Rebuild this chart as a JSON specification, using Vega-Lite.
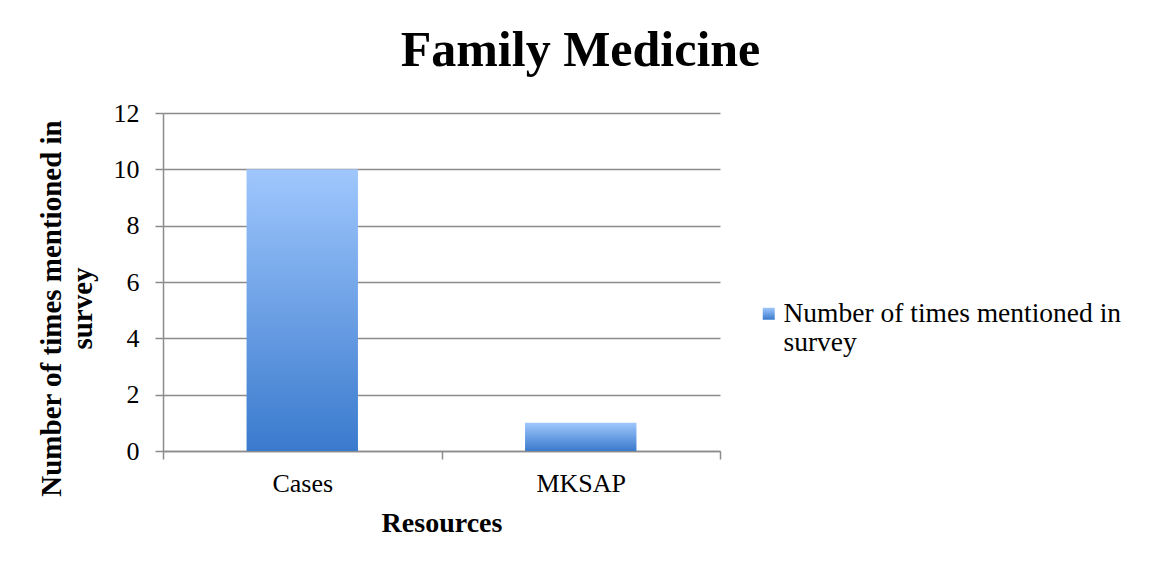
{
  "$schema": "https://vega.github.io/schema/vega-lite/v6.json",
  "width": 557,
  "height": 338,
  "autosize": {"type": "none"},
  "padding": {"left": 163, "top": 113, "right": 433, "bottom": 118},
  "background": "white",
  "title": {
    "text": "Family Medicine",
    "font": "Liberation Serif",
    "fontSize": 50,
    "fontWeight": "bold",
    "color": "black",
    "anchor": "middle",
    "frame": "bounds",
    "offset": 24,
    "dx": 1
  },
  "data": {
    "values": [
      {"resource": "Cases", "count": 10, "series": "Number of times mentioned in survey"},
      {"resource": "MKSAP", "count": 1, "series": "Number of times mentioned in survey"}
    ]
  },
  "mark": {
    "type": "bar",
    "width": {"band": 0.4},
    "color": {"gradient": "linear", "x1": 0, "y1": 0, "x2": 0, "y2": 1,
      "stops": [{"offset": 0, "color": "#9fc7fd"}, {"offset": 1, "color": "#3a7acd"}]}
  },
  "encoding": {
    "x": {
      "field": "resource",
      "type": "nominal",
      "scale": {"paddingInner": 0, "paddingOuter": 0},
      "axis": {
        "title": "Resources",
        "labelAngle": 0,
        "tickBand": "extent",
        "titlePadding": 13
      }
    },
    "y": {
      "field": "count",
      "type": "quantitative",
      "scale": {"domain": [0, 12]},
      "axis": {
        "title": ["Number of times mentioned in", "survey"],
        "values": [0, 2, 4, 6, 8, 10, 12],
        "grid": true,
        "titleY": 195,
        "titleX": -97,
        "titleAnchor": "middle"
      }
    },
    "opacity": {
      "field": "series",
      "type": "nominal",
      "scale": {"range": [1, 1]},
      "legend": {
        "orient": "none",
        "legendX": 592,
        "legendY": 187,
        "title": null,
        "symbolType": "square",
        "symbolSize": 144,
        "symbolStrokeWidth": 0,
        "labelExpr": "['Number of times mentioned in', 'survey']",
        "labelFont": "Liberation Serif",
        "labelFontSize": 27.5,
        "labelColor": "black",
        "labelLimit": 600,
        "labelOffset": 1,
        "encode": {
          "symbols": {
            "update": {
              "fill": {"value": {"gradient": "linear", "x1": 0, "y1": 0, "x2": 0, "y2": 1,
                "stops": [{"offset": 0, "color": "#9fc7fd"}, {"offset": 1, "color": "#3a7acd"}]}},
              "opacity": {"value": 1}
            }
          }
        }
      }
    }
  },
  "config": {
    "view": {"stroke": null},
    "axis": {
      "labelFont": "Liberation Serif",
      "labelFontSize": 26,
      "labelColor": "black",
      "titleFont": "Liberation Serif",
      "titleFontSize": 28,
      "titleFontWeight": "bold",
      "titleColor": "black",
      "domainColor": "#8c8c8c",
      "domainWidth": 1.5,
      "tickColor": "#8c8c8c",
      "tickWidth": 1.5,
      "tickSize": 8,
      "gridColor": "#8c8c8c",
      "gridWidth": 1.5,
      "labelPadding": 11
    },
    "axisY": {"labelPadding": 16, "titleFontSize": 29}
  }
}
